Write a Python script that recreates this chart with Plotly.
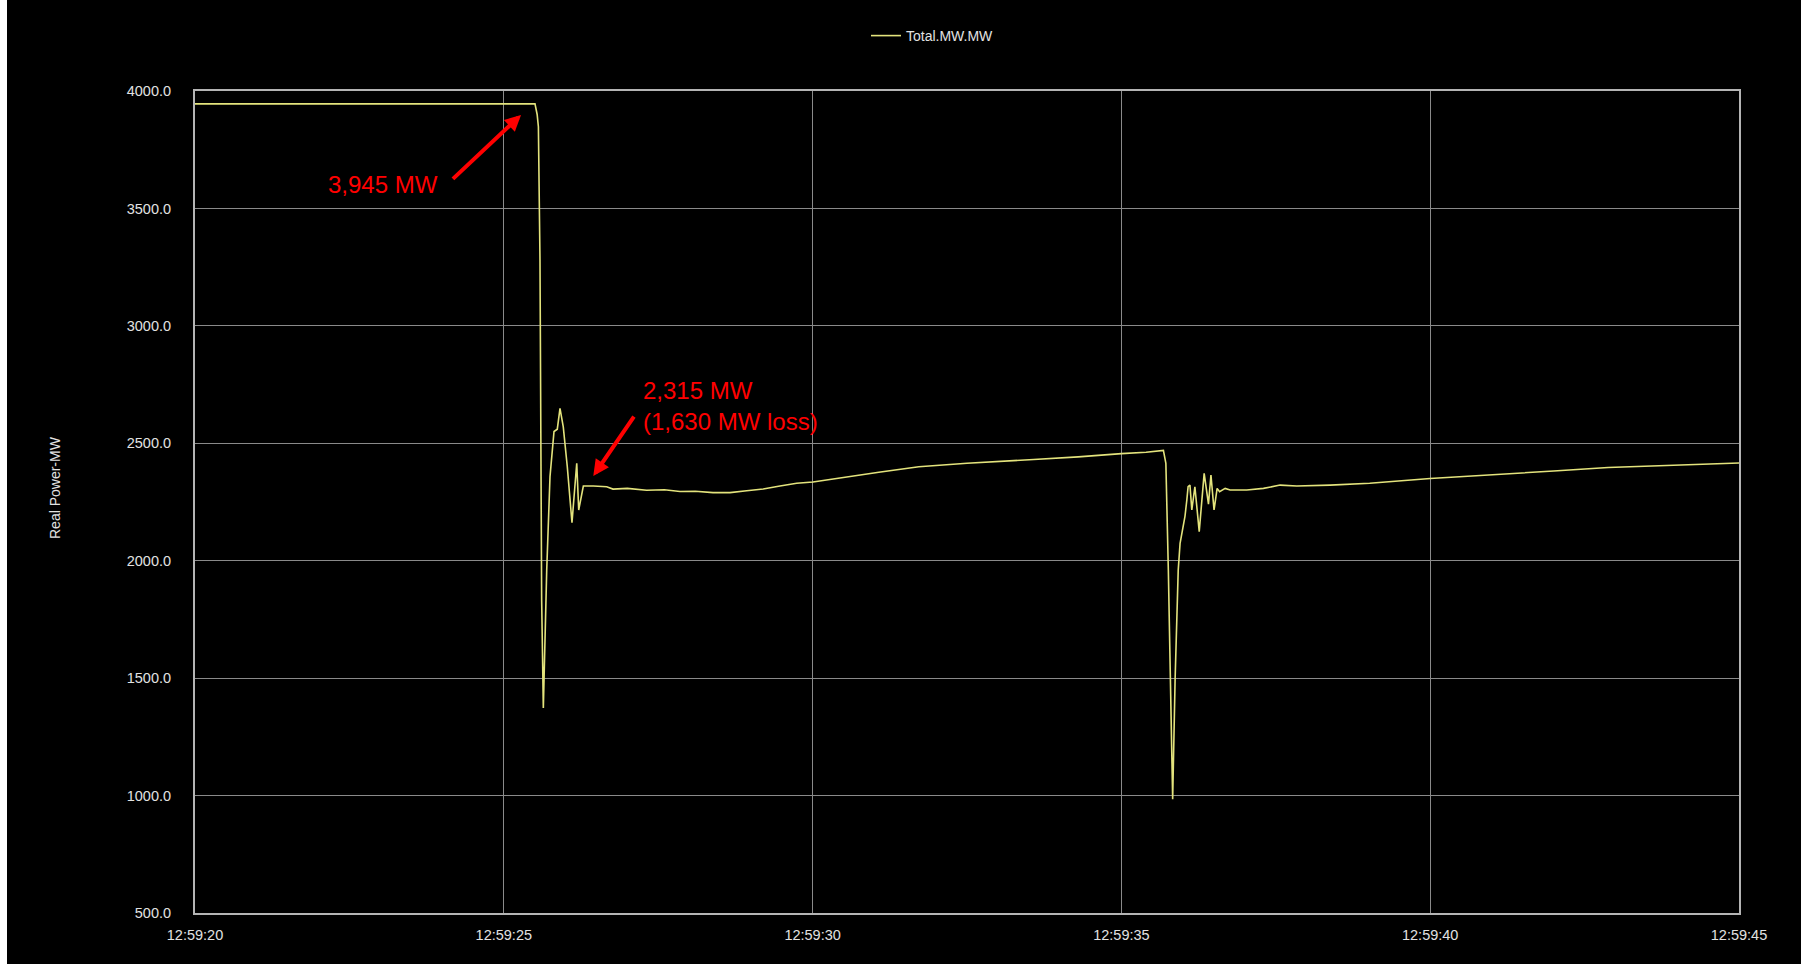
import pandas as pd
import plotly.graph_objects as go

# Generator output (MW) sampled around two trip events
pre_mw = 3945      # steady output before the first trip
post_mw = 2315     # settled output after the first trip
loss_mw = pre_mw - post_mw

t_sec = [0.0, 1.5, 3.0, 4.5, 5.505, 5.54, 5.56, 5.586, 5.613, 5.64, 5.684, 5.695,
         5.748, 5.792, 5.813, 5.866, 5.91, 5.963, 6.007, 6.028, 6.104, 6.181,
         6.213, 6.288, 6.45, 6.666, 6.768, 7.0, 7.313, 7.6, 7.853, 8.1, 8.387,
         8.662, 8.933, 9.2, 9.472, 9.742, 10.006, 10.443, 11.1, 11.72, 12.5,
         13.58, 14.3, 15.0, 15.4, 15.68, 15.72, 15.76, 15.83, 15.87, 15.92,
         15.95, 16.03, 16.06, 16.08, 16.11, 16.14, 16.19, 16.26, 16.34, 16.41,
         16.45, 16.50, 16.55, 16.59, 16.68, 16.76, 17.03, 17.30, 17.57, 17.84,
         18.38, 19.02, 20.0, 21.0, 22.0, 22.88, 24.0, 25.0]
mw = [3945, 3945, 3945, 3945, 3945, 3900, 3848, 3280, 1833, 1373, 1833, 1960,
      2358, 2514, 2550, 2560, 2649, 2570, 2470, 2400, 2162, 2415,
      2216, 2318, 2318, post_mw, 2305, 2308, 2300, 2302, 2295, 2296, 2290,
      2290, 2298, 2305, 2318, 2330, 2335, 2353, 2378, 2400, 2415,
      2431, 2442, 2456, 2462, 2470, 2415, 1960, 984, 1499, 1960,
      2074, 2190, 2260, 2315, 2322, 2216, 2315, 2124, 2372, 2241,
      2365, 2216, 2308, 2294, 2308, 2301, 2301, 2308, 2322, 2318,
      2322, 2330, 2350, 2365, 2382, 2397, 2408, 2416]

y_ticks = [500, 1000, 1500, 2000, 2500, 3000, 3500, 4000]

start = pd.Timestamp("2019-08-09 12:59:20")
times = start + pd.to_timedelta(t_sec, unit="s")


def at(sec):
    return (start + pd.Timedelta(seconds=sec)).strftime("%Y-%m-%d %H:%M:%S.%f")


sans = "Liberation Sans, Arial, sans-serif"
label_color = "#e2e2e2"
label_size = 14.5

fig = go.Figure()
fig.add_trace(go.Scatter(
    x=times, y=mw, mode="lines", name="Total.MW.MW",
    line=dict(color="#e3e37c", width=1.6),
))

red_font = dict(family=sans, size=24, color="#ff0000")

# Arrow pointing at the pre-trip level
fig.add_annotation(
    x=at(5.279), y=3898, ax=at(4.152), ay=3620, axref="x", ayref="y",
    xref="x", yref="y", text="", showarrow=True,
    arrowhead=2, arrowsize=0.8, arrowwidth=4, arrowcolor="#ff0000",
)
fig.add_annotation(
    x=at(3.967), y=3600, xref="x", yref="y", xanchor="right", yanchor="middle",
    text=f"{pre_mw:,} MW", showarrow=False, font=red_font,
)

# Arrow pointing at the settled level after the trip
fig.add_annotation(
    x=at(6.449), y=2361, ax=at(7.124), ay=2620, axref="x", ayref="y",
    xref="x", yref="y", text="", showarrow=True,
    arrowhead=2, arrowsize=0.8, arrowwidth=4, arrowcolor="#ff0000",
)
fig.add_annotation(
    x=at(7.222), y=2659, xref="x", yref="y", xanchor="left", yanchor="middle",
    align="left",
    text=f"{post_mw:,} MW<br>({loss_mw:,} MW loss)", showarrow=False, font=red_font,
)

# Vertical axis title
fig.add_annotation(
    x=-140 / 1544, y=(913 - 488) / 822, xref="paper", yref="paper",
    xanchor="center", yanchor="middle", textangle=-90,
    text="Real Power-MW", showarrow=False,
    font=dict(family=sans, size=14, color=label_color),
)

# Thin white strip along the left edge of the page
fig.add_shape(
    type="rect", xref="paper", yref="paper",
    x0=-195 / 1544, x1=-188 / 1544, y0=-51 / 822, y1=964 / 822 - 51 / 822,
    fillcolor="#ffffff", line=dict(width=0), layer="above",
)

fig.update_layout(
    width=1801, height=964,
    margin=dict(l=195, r=62, t=91, b=51),
    paper_bgcolor="#000000", plot_bgcolor="#000000",
    font=dict(family=sans, size=label_size, color=label_color),
    showlegend=True,
    legend=dict(
        orientation="h", x=(866 - 195) / 1544, xanchor="left",
        y=(913 - 36) / 822, yanchor="middle",
        font=dict(family=sans, size=14, color=label_color),
        bgcolor="rgba(0,0,0,0)",
    ),
)

fig.update_xaxes(
    type="date",
    range=[at(0), at(25)],
    tick0=at(0), dtick=5000, tickformat="%H:%M:%S",
    showgrid=True, gridcolor="#8a8a8a", gridwidth=1,
    showline=True, linecolor="#b4b4b4", linewidth=2, mirror=True,
    ticks="outside", ticklen=8, tickcolor="#000000",
    zeroline=False,
    tickfont=dict(family=sans, size=label_size, color=label_color),
)
fig.update_yaxes(
    range=[500, 4000],
    tickvals=y_ticks, ticktext=[f"{v:.1f}" for v in y_ticks],
    showgrid=True, gridcolor="#8a8a8a", gridwidth=1,
    showline=True, linecolor="#b4b4b4", linewidth=2, mirror=True,
    ticks="outside", ticklen=19, tickcolor="#000000",
    zeroline=False,
    tickfont=dict(family=sans, size=label_size, color=label_color),
)

fig.write_html("out.html")
